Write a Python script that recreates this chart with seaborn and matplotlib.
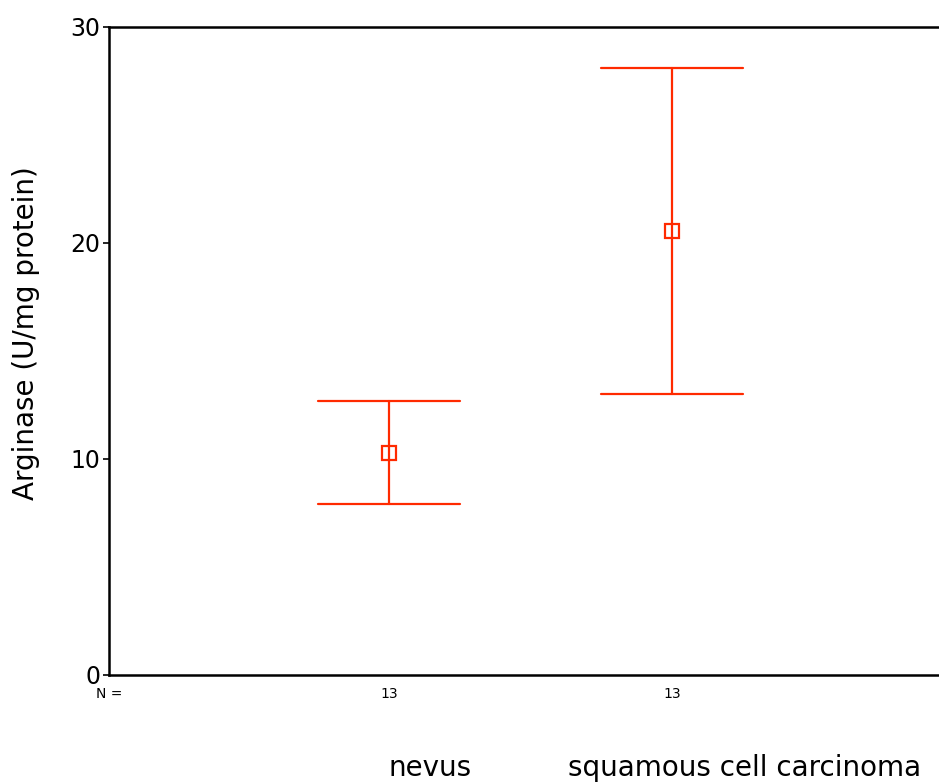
import numpy as np
import pandas as pd
import matplotlib
matplotlib.use('Agg')
import matplotlib.pyplot as plt
import seaborn as sns

# values
groups = ['nevus', 'squamous cell carcinoma']
means = [10.3, 20.55]
lower = [7.9, 13.0]
upper = [12.7, 28.1]
n_counts = ['13', '13']

# long table: low / mean / high per group -> median = mean, range = error bar
rows = []
for g, lo, m, hi in zip(groups, lower, means, upper):
    for v in (lo, m, hi):
        rows.append({'group': g, 'value': v})
df = pd.DataFrame(rows)

sns.set_style('white')
plt.rcParams['font.family'] = ['DejaVu Sans']
plt.rcParams['text.color'] = 'black'
plt.rcParams['xtick.color'] = 'black'
plt.rcParams['ytick.color'] = 'black'
plt.rcParams['axes.labelcolor'] = 'black'

red = '#ff2a00'
fig = plt.figure(figsize=(9.39, 7.83), dpi=100)
ax = fig.add_axes([109 / 939, 108 / 783, 830 / 939, 648 / 783])

sns.pointplot(data=df, x='group', y='value', estimator='median',
              errorbar=lambda v: (v.min(), v.max()), capsize=0.5,
              color=red, linestyle='none', marker='s', markersize=9.5,
              markerfacecolor='white', markeredgecolor=red, markeredgewidth=1.6,
              err_kws={'linewidth': 1.6}, ax=ax)

ax.set_ylim(0, 30)
ax.set_xlim(-0.989, 1.943)
ax.set_yticks([0, 10, 20, 30])
ax.tick_params(axis='y', direction='out', length=4, width=1.2, pad=2,
               labelsize=17, left=True)
ax.set_xticks([0, 1])
ax.set_xticklabels(n_counts)
ax.tick_params(axis='x', length=0, pad=9, labelsize=10)

for side in ['left', 'bottom', 'top']:
    ax.spines[side].set_visible(True)
    ax.spines[side].set_color('black')
    ax.spines[side].set_linewidth(1.8)
ax.spines['right'].set_visible(False)

ax.set_xlabel('')
ax.set_ylabel('Arginase (U/mg protein)', fontsize=20, va='center')
ax.yaxis.set_label_coords(-0.1, 0.527)

ax.text(0.0, -19 / 648, 'N =', ha='center', va='center', fontsize=10,
        transform=ax.transAxes)
ax.text(0.387, -0.1435, groups[0], ha='center', va='center', fontsize=20,
        transform=ax.transAxes)
ax.text(0.766, -0.1435, groups[1], ha='center', va='center', fontsize=20,
        transform=ax.transAxes)

fig.savefig('out.png', dpi=100)
